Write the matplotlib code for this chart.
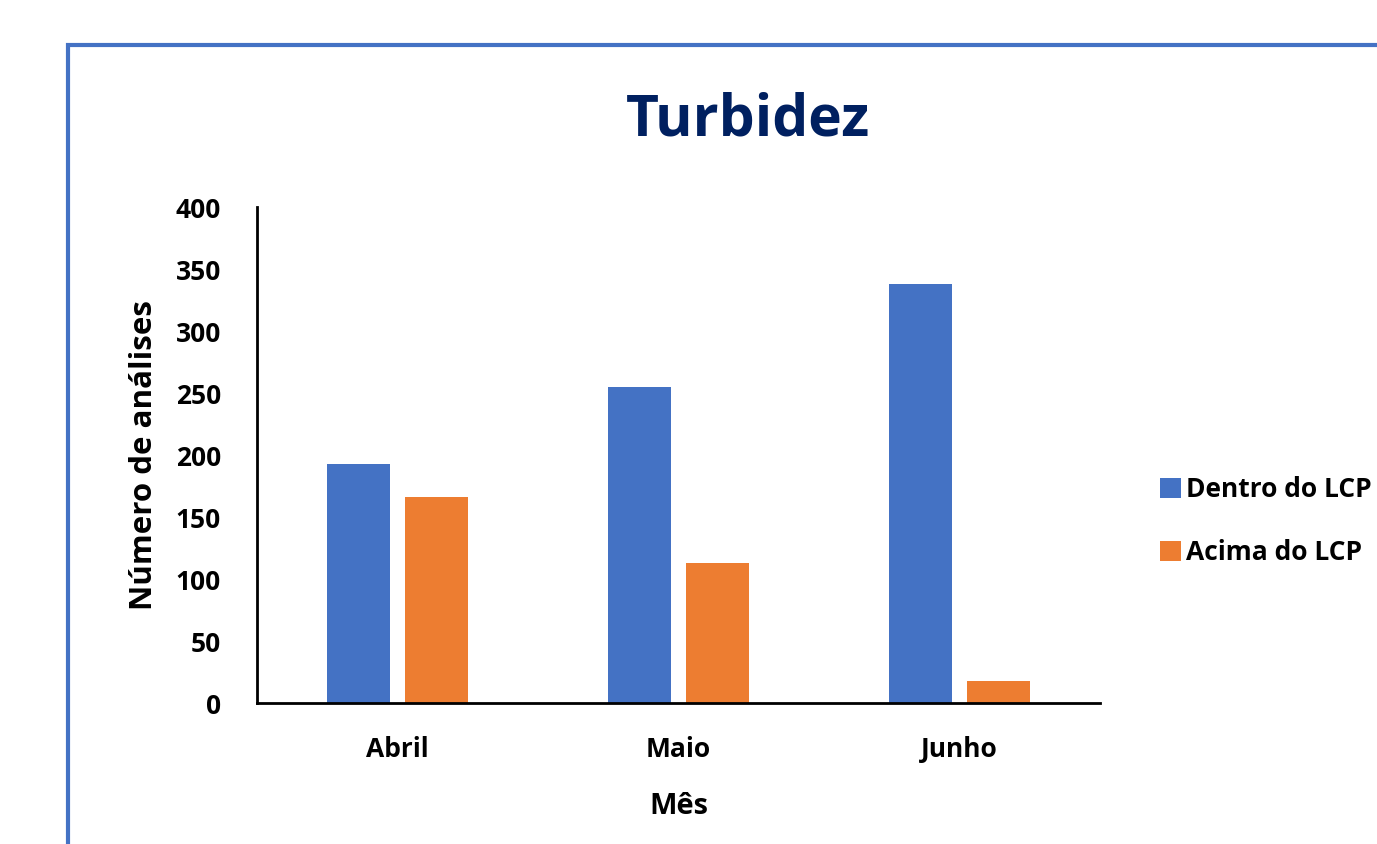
import numpy as np
import matplotlib.pyplot as plt
from matplotlib.patches import Rectangle

meses = ["Abril", "Maio", "Junho"]
dentro_lcp = [193, 255, 338]
acima_lcp = [166, 113, 18]
y_ticks = [0, 50, 100, 150, 200, 250, 300, 350, 400]

azul = "#4472C4"
laranja = "#ED7D31"

plt.rcParams['font.family'] = ['Open Sans', 'DejaVu Sans']
plt.rcParams['font.weight'] = 'bold'

fig = plt.figure(figsize=(13.77, 8.44), dpi=100)
W, H = 1377, 844
ax = fig.add_axes([257 / W, 1 - 703 / H, (1100 - 257) / W, (703 - 207) / H])

x = np.arange(len(meses))
largura = 0.224
ax.bar(x - 0.14, dentro_lcp, largura, color=azul, label="Dentro do LCP")
ax.bar(x + 0.14, acima_lcp, largura, color=laranja, label="Acima do LCP")

ax.set_xlim(-0.5, 2.5)
ax.set_ylim(0, 400)
ax.set_yticks(y_ticks)
ax.set_xticks(x)
ax.set_xticklabels(meses)
ax.tick_params(length=0, labelsize=19)
ax.tick_params(axis='y', pad=26)
ax.tick_params(axis='x', pad=24)
for lbl in ax.get_xticklabels() + ax.get_yticklabels():
    lbl.set_fontweight('bold')

for s in ["top", "right"]:
    ax.spines[s].set_visible(False)
for s in ["left", "bottom"]:
    ax.spines[s].set_linewidth(2)
    ax.spines[s].set_color("black")

ax.set_ylabel("Número de análises", fontsize=22.5, fontweight='bold', labelpad=12)
ax.set_xlabel("Mês", fontsize=21, fontweight='bold', labelpad=21)

fig.text(748 / W, 1 - 120 / H, "Turbidez", ha='center', va='center',
         fontsize=41, fontweight='bold', color="#002060")

fig.legend(loc='center left', bbox_to_anchor=(1160 / W, 1 - 521 / H),
           frameon=False, fontsize=19, handlelength=0.8, handleheight=0.8,
           handletextpad=0.2, labelspacing=1.35, borderpad=0, borderaxespad=0)

# moldura azul do gráfico
fig.patches.append(Rectangle((68 / W, -0.1), 1.2, 1 - 45 / H + 0.1,
                             transform=fig.transFigure, fill=False,
                             edgecolor=azul, linewidth=3))

fig.savefig("out.png", dpi=100)
